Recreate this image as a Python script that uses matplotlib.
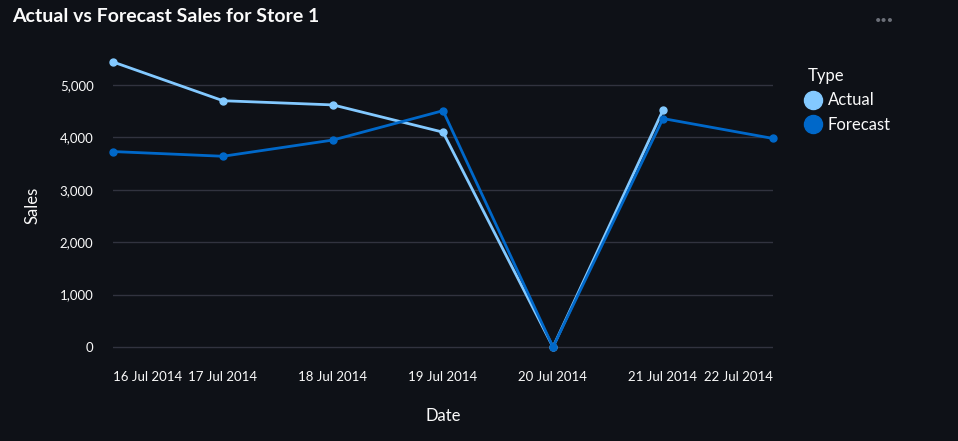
import matplotlib
matplotlib.use("Agg")
import matplotlib.pyplot as plt
import pandas as pd

dates = pd.to_datetime(["2014-07-16","2014-07-17","2014-07-18","2014-07-19","2014-07-20","2014-07-21","2014-07-22"])
actual = [5440, 4700, 4620, 4100, 0, 4520]
forecast = [3730, 3640, 3950, 4510, 0, 4360, 3980]
tick_labels = ["16 Jul 2014","17 Jul 2014","18 Jul 2014","19 Jul 2014","20 Jul 2014","21 Jul 2014","22 Jul 2014"]

plt.rcParams['font.family'] = ['Lato', 'DejaVu Sans']
bg = "#0e1117"
fig = plt.figure(figsize=(9.58, 4.41), dpi=100, facecolor=bg)
ax = fig.add_axes([113/958, 1-360/441, (773-113)/958, (360-50)/441], facecolor=bg)
ax.plot(dates[:len(actual)], actual, color="#83c9ff", lw=2, marker="o", ms=5, label="Actual", zorder=3)
ax.plot(dates, forecast, color="#0068c9", lw=2, marker="o", ms=5, label="Forecast", zorder=3)
ax.set_xlim(dates[0], dates[-1])
ax.set_ylim(-248, 5668)
ax.set_yticks([0,1000,2000,3000,4000,5000])
ax.set_yticklabels(["0","1,000","2,000","3,000","4,000","5,000"])
ax.set_xticks(dates)
ax.set_xticklabels(tick_labels)
labs = ax.get_xticklabels()
labs[0].set_ha("left"); labs[-1].set_ha("right")
ax.grid(axis="y", color="#31333f", lw=1)
ax.set_axisbelow(True)
ax.set_clip_on(False)
for l in ax.lines:
    l.set_clip_on(False)
for s in ax.spines.values():
    s.set_visible(False)
ax.tick_params(colors="#fafafa", length=0, labelsize=9.5, pad=8)
ax.tick_params(axis="y", pad=14)
ax.set_xlabel("Date", color="#fafafa", fontsize=12, labelpad=18)
ax.set_ylabel("Sales", color="#fafafa", fontsize=12, labelpad=14)
leg = ax.legend(title="Type", loc="upper left", bbox_to_anchor=(1.03, 0.99), frameon=False,
                labelcolor="#fafafa", fontsize=12, title_fontsize=12, handlelength=0.6,
                handletextpad=0.6, markerscale=2.6)
for h in leg.legend_handles:
    h.set_linestyle("")
leg.get_title().set_color("#fafafa")
leg._legend_box.align = "left"
fig.text(12/958, 1-16/441, "Actual vs Forecast Sales for Store 1", color="#fafafa", fontsize=14,
         fontweight="bold", va="center")
fig.text(884/958, 1-20/441, "•••", color="#6b6f78", fontsize=8, ha="center", va="center")
fig.savefig("out.png", facecolor=bg)
